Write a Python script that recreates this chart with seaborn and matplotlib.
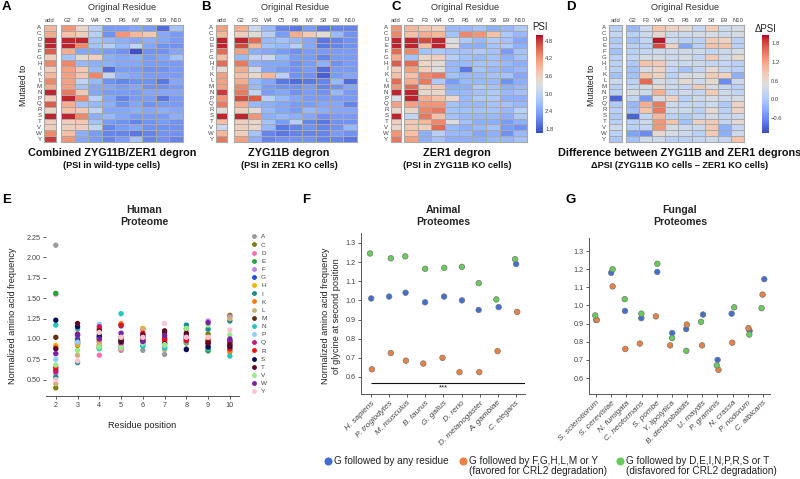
import numpy as np
import pandas as pd
import matplotlib
matplotlib.use("Agg")
import matplotlib.pyplot as plt
import seaborn as sns
from matplotlib.lines import Line2D

sns.set_theme(style="white")
plt.rcParams['font.family'] = ['Liberation Sans', 'DejaVu Sans']

# ------------------------------------------------------------------ data
mutated = list("ACDEFGHIKLMNPQRSTVWY")
original = ["G2", "F3", "W4", "C5", "R6", "M7", "S8", "E9", "N10"]

# Panel A: PSI in wild-type cells (columns: add, then original residues)
wt_add = [3.9,4.0,4.9,4.9,4.6,3.6,4.3,3.6,3.9,4.3,4.0,4.9,3.6,4.6,3.5,4.9,3.6,3.6,4.3,4.8]
wt_main = [
    [4.2,3.8,4.9,4.9,4.0,2.7,4.3,4.1,4.1,4.1,4.1,4.4,4.9,4.0,3.8,4.9,3.6,3.6,3.8,4.2],
    [3.5,3.6,4.9,4.3,2.4,3.4,2.6,3.7,3.7,3.0,2.7,3.7,4.3,2.7,3.7,4.3,3.7,3.6,2.5,2.4],
    [2.9,2.9,2.7,2.7,2.4,3.6,2.5,2.6,4.3,2.6,2.4,2.4,2.9,2.6,3.0,2.5,2.7,3.0,2.3,2.3],
    [2.3,2.2,2.6,2.9,2.3,2.5,2.5,1.9,3.0,2.2,2.4,2.3,2.4,2.5,2.4,2.6,2.3,2.1,2.1,2.1],
    [2.3,4.2,2.5,2.6,2.2,2.4,2.4,2.3,2.5,2.1,2.3,2.3,2.1,2.2,2.4,2.4,2.2,2.3,2.1,2.3],
    [2.4,3.9,2.4,3.0,1.7,2.5,2.4,2.3,2.4,2.2,2.4,2.3,2.3,2.4,2.5,2.3,2.1,2.4,2.0,2.7],
    [2.3,3.7,2.5,2.4,2.2,2.3,2.3,2.2,2.3,2.2,2.2,2.4,2.3,2.2,2.4,2.3,2.2,2.2,2.1,2.1],
    [1.9,2.4,2.4,2.2,2.2,2.4,2.3,2.2,2.3,2.0,2.2,2.4,2.0,2.3,2.5,2.3,2.3,2.2,2.2,2.2],
    [2.7,2.3,2.3,2.2,2.4,2.7,2.3,2.3,2.3,2.4,2.3,2.4,2.3,2.3,2.4,2.5,2.2,2.2,2.2,2.1],
]
# Panel B: PSI in ZER1 KO cells (ZYG11B degron)
zer1ko_add = [4.1,3.9,4.9,4.9,4.5,3.8,4.5,3.4,4.1,4.1,4.1,4.8,4.2,4.4,3.4,4.9,3.8,3.1,3.9,4.4]
zer1ko_main = [
    [4.0,3.6,4.9,4.7,4.1,2.6,4.4,4.0,3.8,4.0,4.3,4.4,4.7,4.0,3.6,4.9,3.6,3.6,3.6,4.1],
    [3.1,3.4,4.5,3.9,2.5,3.0,2.5,3.1,3.5,2.6,2.6,3.0,4.6,2.6,3.4,4.2,3.5,3.5,2.7,2.5],
    [2.6,2.9,2.6,2.7,2.4,3.1,2.4,2.4,3.9,2.4,2.3,2.3,2.9,2.5,2.6,2.5,2.7,2.6,2.1,2.1],
    [2.1,2.3,2.7,2.6,2.3,2.6,2.4,2.3,2.9,2.0,2.2,2.4,2.6,2.4,2.4,2.6,2.3,2.0,2.0,2.2],
    [2.0,4.0,2.6,2.9,2.2,2.3,2.2,2.2,2.2,1.9,2.2,2.2,2.4,2.3,2.3,2.5,2.9,2.1,2.1,2.2],
    [2.3,3.7,2.4,2.4,2.3,2.3,2.3,2.3,2.2,2.0,2.3,2.3,2.3,2.3,2.6,2.4,2.1,2.2,2.1,2.2],
    [2.0,3.4,2.0,2.0,2.3,2.1,2.5,1.9,1.8,2.1,2.1,2.2,2.3,2.4,2.5,2.2,2.0,2.1,2.1,2.1],
    [2.1,2.6,2.1,2.1,2.3,2.3,2.2,2.3,2.3,2.6,2.2,2.6,2.3,2.4,2.4,2.3,2.2,2.2,2.3,2.1],
    [2.1,2.2,2.2,2.2,2.3,2.3,2.3,2.3,2.4,1.9,2.4,2.3,2.3,2.1,2.4,2.3,2.2,2.6,2.2,2.0],
]
# Panel C: PSI in ZYG11B KO cells (ZER1 degron)
zyg11bko_add = [4.2,4.3,4.9,4.9,4.5,4.0,4.6,3.6,3.8,4.5,4.2,4.9,3.2,4.1,3.5,4.9,3.6,3.5,4.2,4.4]
zyg11bko_main = [
    [3.9,3.8,4.9,4.9,4.3,2.7,4.5,4.1,3.8,4.0,4.5,4.9,4.9,4.1,3.5,3.0,3.7,3.7,3.8,4.1],
    [3.7,4.0,4.7,3.8,2.7,3.5,3.5,3.6,4.3,4.4,3.6,3.5,4.0,4.2,4.3,4.4,3.9,3.6,2.5,2.5],
    [3.6,3.9,4.9,4.9,2.8,3.6,3.4,3.3,4.4,2.8,3.7,3.5,3.8,4.2,4.4,3.8,4.3,4.5,2.9,2.7],
    [2.6,2.7,3.3,3.4,2.7,2.9,2.6,2.6,2.7,2.3,2.5,2.6,3.5,2.7,2.7,2.7,3.3,2.6,2.6,2.5],
    [2.6,4.3,2.8,2.5,2.7,2.7,2.6,2.0,2.6,2.6,2.5,2.6,2.6,2.6,2.7,2.6,2.7,2.5,2.6,2.5],
    [2.7,4.2,2.6,2.5,2.8,2.6,2.7,2.7,2.6,2.6,2.8,2.7,2.8,2.6,2.7,2.6,2.5,2.6,2.4,2.5],
    [2.5,3.8,2.8,2.7,2.7,2.7,2.7,2.6,2.7,2.6,2.7,2.8,2.8,2.7,2.7,2.6,2.5,2.7,2.5,2.6],
    [2.6,2.8,2.7,2.8,2.3,2.5,2.6,2.5,2.7,2.2,2.5,2.6,2.5,2.7,2.6,2.5,2.3,2.3,2.2,2.6],
    [2.8,2.6,2.4,2.5,2.7,2.7,2.5,2.6,2.4,2.5,2.6,2.7,2.5,2.6,2.9,2.8,2.5,2.2,2.6,2.7],
]
# Panel D: delta PSI
dpsi_add = [0.1,0.2,0.0,0.1,-0.1,0.1,0.1,0.1,-0.1,0.3,0.1,0.1,-0.9,0.0,0.1,0.0,0.1,0.3,0.1,0.0]
dpsi_main = [
    [-0.2,0.1,-0.1,0.1,0.1,0.2,0.0,-0.1,-0.1,0.1,0.2,0.4,0.2,-0.2,-0.1,-0.9,0.1,0.1,-0.4,-0.1],
    [0.3,0.3,0.2,0.1,0.2,0.4,0.9,0.4,0.9,1.6,0.4,0.3,-0.5,1.1,0.9,0.2,0.3,0.2,-0.6,0.3],
    [0.9,0.6,2.0,1.8,0.3,0.4,0.8,0.7,0.7,0.4,0.6,1.1,0.4,1.5,1.5,1.0,1.3,1.3,0.6,0.3],
    [0.7,0.3,0.3,0.7,0.3,0.3,0.3,0.2,0.1,0.3,0.3,0.2,0.7,0.3,0.3,0.1,0.9,0.4,0.4,0.1],
    [0.6,0.3,0.1,-0.4,0.3,0.4,0.3,-0.1,0.4,0.6,0.2,0.3,0.1,0.2,0.3,0.0,-0.1,0.3,0.3,0.1],
    [0.2,0.4,0.1,0.1,0.3,0.2,0.3,0.2,0.4,0.3,0.8,0.2,0.3,0.2,0.1,0.2,0.7,0.3,0.1,0.2],
    [0.8,0.4,0.8,0.9,0.2,0.8,0.2,0.6,0.8,0.6,0.4,0.8,0.4,0.3,0.6,0.4,0.8,0.8,0.8,0.3],
    [0.3,0.3,0.7,0.9,0.3,0.3,0.2,0.2,0.7,-0.6,0.2,0.3,0.3,0.0,0.1,0.2,0.2,-0.3,-0.3,0.2],
    [0.4,0.4,0.1,0.1,0.4,0.6,0.1,0.1,-0.3,0.3,0.1,0.2,0.4,0.7,0.7,0.3,0.6,0.2,0.3,0.9],
]
psi_ticks = [1.8, 2.4, 3.0, 3.6, 4.2, 4.8]
dpsi_ticks = [-0.6, 0.0, 0.6, 1.2, 1.8]

# Panel E: normalized amino-acid frequency, residue positions 2..10 (order A..Y)
residue_positions = [2, 3, 4, 5, 6, 7, 8, 9, 10]
freq_by_position = [
    [2.15,0.40,1.55,1.56,0.57,0.62,0.92,0.53,0.90,0.45,1.02,1.17,0.75,0.60,0.65,1.23,0.88,0.68,0.82,0.50],
    [0.94,0.92,0.95,0.98,0.95,1.00,0.93,0.71,0.95,0.80,0.97,1.12,0.96,1.05,1.06,1.15,1.19,0.86,1.05,0.73],
    [0.90,0.92,0.80,0.97,0.95,1.02,0.98,0.89,1.00,0.93,1.05,0.88,1.18,1.15,1.12,1.03,1.10,0.90,1.00,1.08],
    [0.86,1.00,0.87,1.02,0.90,1.16,0.93,0.90,1.19,1.18,0.96,1.31,0.91,0.95,1.17,0.97,0.98,0.89,1.07,1.02],
    [0.86,1.12,0.96,0.99,0.95,1.02,1.13,0.92,1.00,1.12,0.98,0.91,0.94,0.96,1.07,1.03,1.05,0.95,0.97,1.02],
    [0.81,1.05,0.88,1.00,0.96,0.90,0.98,0.95,0.97,0.87,1.08,0.89,0.92,1.02,0.99,0.94,1.10,0.93,1.04,1.19],
    [0.88,1.12,1.03,0.95,1.01,0.97,1.03,1.17,1.00,0.96,1.05,0.97,0.99,1.00,0.98,0.87,1.07,1.13,1.02,1.02],
    [0.85,1.06,0.88,0.86,1.22,0.92,1.01,1.12,0.97,0.93,0.98,0.88,0.94,0.95,0.96,0.90,0.95,1.17,1.20,1.02],
    [0.86,1.29,0.90,0.88,1.27,0.98,0.95,1.22,0.84,1.25,0.96,0.79,0.89,0.97,0.88,0.91,0.93,1.05,1.00,1.11],
]
aa_colors = ["#9a9a9a", "#7f7f10", "#ff6eb4", "#22a83a", "#c080f0", "#1a4fe0",
             "#f5b400", "#1a8c88", "#ff7a10", "#cfae78", "#5c3310", "#22c8b8",
             "#90ccf8", "#c8147e", "#ee1010", "#0a0a5a", "#5a0a24", "#98ec88",
             "#7a1fa8", "#ffc4d2"]
e_yticks = [0.50, 0.75, 1.00, 1.25, 1.50, 1.75, 2.00, 2.25]

# Panels F, G: normalized frequency of glycine at second position
animal_species = ["H. sapiens", "P. troglodytes", "M. musculus", "B. taurus", "G. gallus",
                  "D. rerio", "D. melanogaster", "A. gambiae", "C. elegans"]
animal_any = [1.01, 1.02, 1.04, 0.99, 1.02, 1.00, 0.95, 0.965, 1.19]
animal_favored = [0.64, 0.725, 0.685, 0.67, 0.70, 0.625, 0.625, 0.735, 0.94]
animal_disfavored = [1.245, 1.22, 1.23, 1.165, 1.17, 1.175, 1.09, 1.005, 1.215]

fungal_species = ["S. sclerotiorum", "S. cerevisiae", "N. fumigata", "C. neoformans", "S. pombe",
                  "Y. lipolytica", "B. dendrobatidis", "U. maydis", "P. graminis", "N. crassa",
                  "P. nodorum", "C. albicans"]
fungal_any = [0.92, 1.18, 0.97, 0.93, 1.185, 0.848, 0.87, 0.95, 0.70, 0.955, 0.86, 1.145]
fungal_favored = [0.92, 1.105, 0.76, 0.79, 0.94, 0.78, 0.895, 0.78, 0.645, 0.795, 0.875, 1.06]
fungal_disfavored = [0.945, 1.20, 1.035, 0.955, 1.23, 0.82, 0.75, 0.91, 0.67, 0.99, 0.84, 0.985]
fg_yticks = [0.6, 0.7, 0.8, 0.9, 1.0, 1.1, 1.2, 1.3]

group_names = ["any", "favored", "disfavored"]
group_colors = {"any": "#3f6fd0", "favored": "#ec8040", "disfavored": "#66cc5a"}
group_labels = ["G followed by any residue",
                "G followed by F,G,H,L,M or Y\n(favored for CRL2 degradation)",
                "G followed by D,E,I,N,P,R,S or T\n(disfavored for CRL2 degradation)"]

# ------------------------------------------------------------------ figure helpers
W, H = 800, 479
fig = plt.figure(figsize=(W / 100, H / 100), dpi=100)


def pax(l, t, r, b):
    return fig.add_axes([l / W, 1 - b / H, (r - l) / W, (b - t) / H])


def ftext(x, y, s, **kw):
    return fig.text(x / W, 1 - y / H, s, **kw)


GRID = "#a8a8a8"


def frame(ax):
    for sp in ax.spines.values():
        sp.set_visible(True)
        sp.set_edgecolor(GRID)
        sp.set_linewidth(0.8)


def heat_block(add_vals, main_cols, add_box, main_box, vmin, vmax, cbar_box=None,
               ticks=None, cbar_label=None, label_box=None):
    ax_add = pax(*add_box)
    df_add = pd.DataFrame({"add": add_vals}, index=mutated)
    sns.heatmap(df_add, ax=ax_add, cmap="coolwarm", vmin=vmin, vmax=vmax, cbar=False,
                linewidths=0.4, linecolor=GRID, xticklabels=True, yticklabels=True)
    ax_add.xaxis.tick_top()
    ax_add.tick_params(axis="both", length=0, labelsize=4.2, colors="#444444", pad=1.8)
    ax_add.set_yticklabels(mutated, rotation=0, fontsize=4.4)
    ax_add.set_xticklabels(["add"], rotation=0)
    ax_add.set_xlabel("")
    ax_add.set_ylabel("")
    frame(ax_add)

    ax_m = pax(*main_box)
    df_m = pd.DataFrame(dict(zip(original, main_cols)), index=mutated)
    if cbar_box is not None:
        cax = pax(*cbar_box)
        kw = dict(cbar=True, cbar_ax=cax)
    else:
        kw = dict(cbar=False)
    sns.heatmap(df_m, ax=ax_m, cmap="coolwarm", vmin=vmin, vmax=vmax,
                linewidths=0.4, linecolor=GRID, xticklabels=True, yticklabels=False, **kw)
    ax_m.xaxis.tick_top()
    ax_m.tick_params(axis="both", length=0, labelsize=4.2, colors="#444444", pad=1.8)
    ax_m.set_xticklabels(original, rotation=0)
    ax_m.set_xlabel("")
    ax_m.set_ylabel("")
    frame(ax_m)
    cx = (main_box[0] + main_box[2]) / 2
    ftext(cx, 7, "Original Residue", ha="center", va="center", fontsize=6.6, color="#333333")
    if cbar_box is not None:
        cb = ax_m.collections[0].colorbar
        cb.outline.set_visible(False)
        cb.set_ticks(ticks)
        cb.ax.tick_params(labelsize=4.2, length=0, pad=1.5, colors="#444444")
        ftext(label_box[0], label_box[1], cbar_label, ha="center", va="center",
              fontsize=7, color="#222222")


# ------------------------------------------------------------------ heatmaps
psi_min, psi_max = 1.65, 5.0
d_min, d_max = -1.08, 2.06
heat_block(wt_add, wt_main, (44, 25, 56, 142), (61, 25, 183, 142), psi_min, psi_max)
heat_block(zer1ko_add, zer1ko_main, (216, 25, 227, 142), (234, 25, 357, 142), psi_min, psi_max)
heat_block(zyg11bko_add, zyg11bko_main, (391, 25, 401, 142), (404, 25, 527, 142), psi_min, psi_max,
           cbar_box=(536, 35, 543, 133), ticks=psi_ticks, cbar_label="PSI", label_box=(540, 27))
heat_block(dpsi_add, dpsi_main, (609, 25, 622, 142), (626, 25, 744, 142), d_min, d_max,
           cbar_box=(762, 35, 769, 133), ticks=dpsi_ticks, cbar_label="ΔPSI", label_box=(766, 29))

ftext(23, 85, "Mutated to", rotation=90, ha="center", va="center", fontsize=6.3, color="#222222")
ftext(592, 85, "Mutated to", rotation=90, ha="center", va="center", fontsize=6.3, color="#222222")

sub_kw = dict(ha="center", va="center", fontweight="bold", color="#111111")
ftext(112, 153, "Combined ZYG11B/ZER1 degron", fontsize=7.8, **sub_kw)
ftext(112, 165, "(PSI in wild-type cells)", fontsize=6.6, **sub_kw)
ftext(289, 153, "ZYG11B degron", fontsize=7.8, **sub_kw)
ftext(289, 165, "(PSI in ZER1 KO cells)", fontsize=6.6, **sub_kw)
ftext(457, 153, "ZER1 degron", fontsize=7.8, **sub_kw)
ftext(457, 165, "(PSI in ZYG11B KO cells)", fontsize=6.6, **sub_kw)
ftext(680, 153, "Difference between ZYG11B and ZER1 degrons", fontsize=7.8, **sub_kw)
ftext(680, 165, "ΔPSI (ZYG11B KO cells – ZER1 KO cells)", fontsize=6.6, **sub_kw)

letter_kw = dict(ha="left", va="top", fontsize=9.5, fontweight="bold", color="#000000")
ftext(2, 1, "A", **letter_kw)
ftext(201, 1, "B", **letter_kw)
ftext(392, 1, "C", **letter_kw)
ftext(566, 1, "D", **letter_kw)
ftext(2, 194, "E", **letter_kw)
ftext(302, 194, "F", **letter_kw)
ftext(566, 194, "G", **letter_kw)

# ------------------------------------------------------------------ panel E
rows = []
for pos, vals in zip(residue_positions, freq_by_position):
    for aa, v in zip(mutated, vals):
        rows.append((pos, aa, v))
df_e = pd.DataFrame(rows, columns=["position", "aa", "freq"])
ax_e = pax(46, 233, 239, 396)
sns.scatterplot(data=df_e, x="position", y="freq", hue="aa", hue_order=mutated,
                palette=dict(zip(mutated, aa_colors)), s=15, linewidth=0, ax=ax_e, legend=False)
ax_e.set_xlim(1.55, 10.42)
ax_e.set_ylim(0.30, 2.30)
ax_e.set_xticks(residue_positions)
ax_e.set_yticks(e_yticks)
ax_e.set_yticklabels([f"{v:.2f}" for v in e_yticks])
ax_e.set_xlabel("")
ax_e.set_ylabel("")
for side in ["top", "right", "left"]:
    ax_e.spines[side].set_visible(False)
ax_e.spines["bottom"].set_color("#555555")
ax_e.spines["bottom"].set_linewidth(0.7)
ax_e.tick_params(axis="both", labelsize=5.2, colors="#444444", length=2.5, width=0.6, pad=1.5,
                 left=True, bottom=True)
ftext(144, 216, "Human\nProteome", ha="center", va="center", fontsize=7.6, fontweight="bold",
      linespacing=1.25)
ftext(13, 316, "Normalized amino acid frequency", rotation=90, ha="center", va="center",
      fontsize=6.6, color="#222222")
ftext(142, 425, "Residue position", ha="center", va="center", fontsize=6.6, color="#222222")
handles = [Line2D([], [], ls="", marker="o", markersize=3.5, markerfacecolor=c, markeredgewidth=0)
           for c in aa_colors]
fig.legend(handles, mutated, loc="upper left", bbox_to_anchor=(251.5 / W, 1 - 234 / H),
           frameon=False, fontsize=4.6, handlelength=0.8, handletextpad=0.7,
           labelspacing=0.42, borderpad=0, borderaxespad=0, labelcolor="#444444")


# ------------------------------------------------------------------ panels F and G
def g2_panel(box, species, vals_any, vals_fav, vals_dis, ylim, xlim):
    ax = pax(*box)
    recs = []
    for g, vals in zip(group_names, [vals_any, vals_fav, vals_dis]):
        for sp, v in zip(species, vals):
            recs.append((sp, g, v))
    df = pd.DataFrame(recs, columns=["species", "group", "value"])
    np.random.seed(3)
    sns.stripplot(data=df, x="species", y="value", hue="group", order=species,
                  hue_order=["disfavored", "favored", "any"], palette=group_colors,
                  jitter=0.12, size=4.0, linewidth=0.5, edgecolor="#777777", ax=ax, legend=False)
    ax.set_xlim(*xlim)
    ax.set_ylim(*ylim)
    ax.set_yticks(fg_yticks)
    ax.set_yticklabels([f"{v:.1f}" for v in fg_yticks])
    ax.set_xticks(range(len(species)))
    ax.set_xticklabels(species, rotation=45, ha="right", rotation_mode="anchor",
                       fontstyle="italic", fontsize=5.9, color="#333333")
    ax.set_xlabel("")
    ax.set_ylabel("")
    for side in ["top", "right"]:
        ax.spines[side].set_visible(False)
    for side in ["left", "bottom"]:
        ax.spines[side].set_color("#555555")
        ax.spines[side].set_linewidth(0.7)
    ax.tick_params(axis="y", labelsize=5.2, colors="#444444", length=2.5, width=0.6, pad=1.5, left=True)
    ax.tick_params(axis="x", colors="#444444", length=2.5, width=0.6, pad=1.5, bottom=True)
    return ax


ax_f = g2_panel((361, 233, 525, 394), animal_species, animal_any, animal_favored,
                animal_disfavored, (0.511, 1.352), (-0.55, 8.5))
ax_f.hlines(0.57, 0, 8.6, color="#111111", linewidth=0.8)
ax_f.text(4, 0.545, "***", ha="center", va="center", fontsize=5.5, color="#111111")
ftext(443, 216, "Animal\nProteomes", ha="center", va="center", fontsize=7.6, fontweight="bold",
      linespacing=1.25)
ftext(331, 316, "Normalized amino acid frequency\nof glycine at second position", rotation=90,
      ha="center", va="center", fontsize=6.6, color="#222222", linespacing=1.15)

ax_g = g2_panel((589, 238, 770, 394), fungal_species, fungal_any, fungal_favored,
                fungal_disfavored, (0.512, 1.372), (-0.46, 11.46))
ftext(680, 216, "Fungal\nProteomes", ha="center", va="center", fontsize=7.6, fontweight="bold",
      linespacing=1.25)

# ------------------------------------------------------------------ bottom legend
leg_marker_x = [328, 463, 620]
for g, lab, mx in zip(group_names, group_labels, leg_marker_x):
    fig.add_artist(Line2D([mx / W], [1 - 461 / H], transform=fig.transFigure, ls="",
                          marker="o", markersize=5.8, markerfacecolor=group_colors[g],
                          markeredgewidth=0))
    ftext(mx + 6, 456, lab, ha="left", va="top", fontsize=7.2, color="#222222",
          linespacing=1.05)

fig.savefig("out.png", dpi=100)
